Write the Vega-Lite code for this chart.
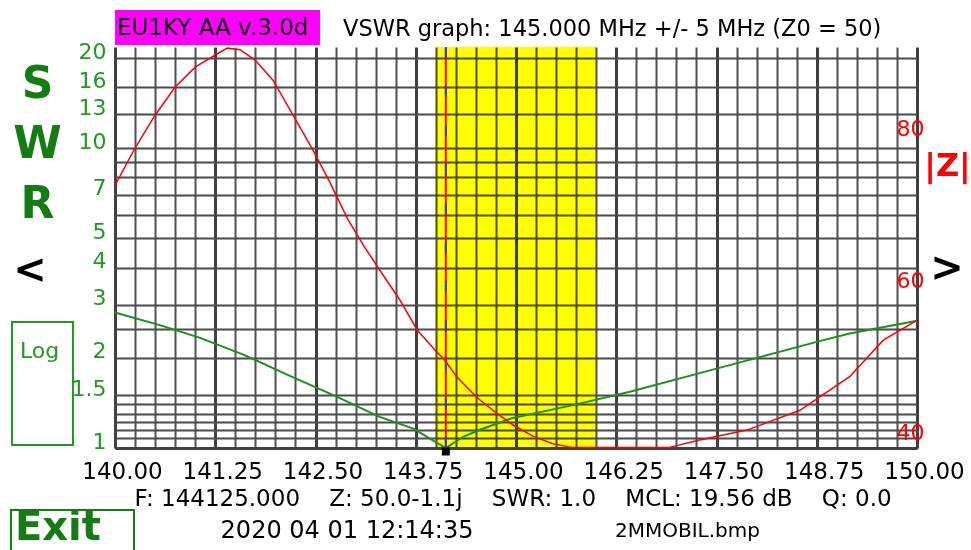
{
  "$schema": "https://vega.github.io/schema/vega-lite/v6.json",
  "width": 802,
  "height": 401,
  "autosize": {"type": "none"},
  "padding": {"left": 115, "top": 47, "right": 54, "bottom": 102},
  "background": "#ffffff",
  "config": {"view": {"stroke": null}, "font": "DejaVu Sans"},
  "datasets": {
    "band": [{"start": 144, "end": 146}],
    "marker": [{"f": 144.125}],
    "swr": [
      {"f": 140.0, "swr": 2.83},
      {"f": 140.6, "swr": 2.55},
      {"f": 141.06, "swr": 2.33},
      {"f": 141.6, "swr": 2.05},
      {"f": 142.18, "swr": 1.74},
      {"f": 142.75, "swr": 1.49},
      {"f": 143.3, "swr": 1.27},
      {"f": 143.72, "swr": 1.16},
      {"f": 143.99, "swr": 1.05},
      {"f": 144.125, "swr": 1.0},
      {"f": 144.34, "swr": 1.09},
      {"f": 144.55, "swr": 1.15},
      {"f": 144.96, "swr": 1.26},
      {"f": 145.71, "swr": 1.39},
      {"f": 146.42, "swr": 1.54},
      {"f": 147.5, "swr": 1.84},
      {"f": 148.75, "swr": 2.26},
      {"f": 149.16, "swr": 2.41},
      {"f": 150.0, "swr": 2.66}
    ],
    "z": [
      {"f": 140.0, "z": 73.4},
      {"f": 140.25, "z": 78.3},
      {"f": 140.5, "z": 82.6},
      {"f": 140.75, "z": 86.3},
      {"f": 141.0, "z": 88.9},
      {"f": 141.25, "z": 90.5},
      {"f": 141.4, "z": 91.4},
      {"f": 141.56, "z": 91.2},
      {"f": 141.75, "z": 89.8},
      {"f": 141.97, "z": 87.2},
      {"f": 142.22, "z": 82.6},
      {"f": 142.47, "z": 78.0},
      {"f": 142.68, "z": 73.8},
      {"f": 142.9, "z": 69.0},
      {"f": 143.1, "z": 65.5},
      {"f": 143.3, "z": 62.3},
      {"f": 143.55, "z": 58.4},
      {"f": 143.77, "z": 54.4},
      {"f": 143.99, "z": 51.8},
      {"f": 144.11, "z": 50.5},
      {"f": 144.26, "z": 48.3},
      {"f": 144.51, "z": 45.6},
      {"f": 144.76, "z": 43.5},
      {"f": 144.96, "z": 42.0},
      {"f": 145.21, "z": 40.5},
      {"f": 145.46, "z": 39.5},
      {"f": 145.71, "z": 39.0},
      {"f": 146.9, "z": 39.0},
      {"f": 147.29, "z": 40.0},
      {"f": 147.88, "z": 41.3},
      {"f": 148.54, "z": 43.9},
      {"f": 149.16, "z": 48.3},
      {"f": 149.58, "z": 53.1},
      {"f": 150.0, "z": 55.7}
    ]
  },
  "layer": [
    {
      "layer": [
        {
          "data": {"name": "band"},
          "mark": {"type": "rect", "color": "#ffff00", "blend": "multiply"},
          "encoding": {
            "x": {
              "field": "start",
              "type": "quantitative",
              "scale": {"domain": [140, 150], "nice": false, "zero": false},
              "axis": {
                "values": [140, 140.25, 140.5, 140.75, 141, 141.25, 141.5, 141.75, 142, 142.25, 142.5, 142.75, 143, 143.25, 143.5, 143.75, 144, 144.25, 144.5, 144.75, 145, 145.25, 145.5, 145.75, 146, 146.25, 146.5, 146.75, 147, 147.25, 147.5, 147.75, 148, 148.25, 148.5, 148.75, 149, 149.25, 149.5, 149.75, 150],
                "tickCount": 200,
                "labelExpr": "datum.value % 1.25 === 0 ? format(datum.value, '.2f') : ''",
                "grid": true,
                "gridColor": {"condition": {"test": "datum.value % 1.25 === 0", "value": "#404040"}, "value": "#505050"},
                "gridWidth": {"condition": {"test": "datum.value % 1.25 === 0", "value": 3}, "value": 2},
                "domain": true,
                "domainColor": "#404040",
                "domainWidth": 3,
                "ticks": false,
                "tickSize": 0,
                "labelPadding": 12,
                "labelOffset": 7,
                "labelFlush": false,
                "labelOverlap": false,
                "labelBound": false,
                "labelColor": "#000000",
                "labelFont": "DejaVu Sans",
                "labelFontSize": 23,
                "title": "F: 144125.000\u00a0\u00a0\u00a0\u00a0Z: 50.0-1.1j\u00a0\u00a0\u00a0\u00a0SWR: 1.0\u00a0\u00a0\u00a0\u00a0MCL: 19.56 dB\u00a0\u00a0\u00a0\u00a0Q: 0.0",
                "titleFont": "DejaVu Sans",
                "titleFontSize": 23,
                "titleFontWeight": "normal",
                "titleColor": "#000000",
                "titleAlign": "left",
                "titleBaseline": "middle",
                "titleX": 19,
                "titleY": 50
              }
            },
            "x2": {"field": "end"}
          }
        },
        {
          "data": {"name": "swr"},
          "mark": {"type": "line", "color": "#1c901c", "strokeWidth": 2},
          "encoding": {
            "x": {"field": "f", "type": "quantitative"},
            "y": {
              "field": "swr",
              "type": "quantitative",
              "scale": {"type": "log", "domain": [1, 21.77], "nice": false},
              "axis": {
                "orient": "left",
                "values": [1, 1.08, 1.15, 1.22, 1.3, 1.4, 1.5, 2, 2.5, 3, 4, 5, 6, 7, 8, 9, 10, 13, 16, 20],
                "tickCount": 200,
                "labelExpr": "indexof([1, 1.5, 2, 3, 4, 5, 7, 10, 13, 16, 20], datum.value) >= 0 ? '' + datum.value : ''",
                "grid": true,
                "gridColor": "#4a4a4a",
                "gridWidth": 2,
                "domain": false,
                "ticks": false,
                "tickSize": 0,
                "labelPadding": 9,
                "labelBaseline": "alphabetic",
                "labelColor": "#229922",
                "labelFont": "DejaVu Sans",
                "labelFontSize": 22,
                "labelOverlap": false,
                "labelFlush": false,
                "labelBound": false,
                "title": ["S", "W", "R"],
                "titleAngle": 0,
                "titleAlign": "center",
                "titleBaseline": "top",
                "titleX": -78,
                "titleY": 15,
                "titleFont": "DejaVu Sans",
                "titleFontSize": 44,
                "titleFontWeight": "bold",
                "titleColor": "#137d13",
                "titleLineHeight": 60
              }
            }
          }
        },
        {
          "data": {"name": "marker"},
          "mark": {"type": "rule", "color": "#ff0000", "strokeWidth": 2},
          "encoding": {"x": {"field": "f", "type": "quantitative"}}
        },
        {
          "data": {"name": "marker"},
          "mark": {"type": "rule", "color": "#2f3cff", "strokeWidth": 2, "strokeDash": [11, 28]},
          "encoding": {"x": {"field": "f", "type": "quantitative"}}
        },
        {
          "data": {"name": "marker"},
          "mark": {"type": "square", "color": "#000000", "filled": true, "opacity": 1, "size": 64},
          "encoding": {
            "x": {"field": "f", "type": "quantitative"},
            "y": {"datum": 0.9735, "type": "quantitative"}
          }
        },
        {
          "data": {"values": [{}]},
          "mark": {"type": "rect", "color": "#ff00ff"},
          "encoding": {
            "x": {"datum": 140, "type": "quantitative"},
            "x2": {"datum": 142.556},
            "y": {"datum": 22.09, "type": "quantitative"},
            "y2": {"datum": 28.91}
          }
        },
        {
          "data": {"values": [{"t": "EU1KY AA v.3.0d"}]},
          "mark": {"type": "text", "align": "left", "baseline": "middle", "font": "DejaVu Sans", "fontSize": 23, "color": "#000000"},
          "encoding": {
            "x": {"datum": 140.025, "type": "quantitative"},
            "y": {"datum": 25.18, "type": "quantitative"},
            "text": {"field": "t"}
          }
        },
        {
          "data": {"values": [{"t": "VSWR graph: 145.000 MHz +/- 5 MHz (Z0 = 50)"}]},
          "mark": {"type": "text", "align": "left", "baseline": "middle", "font": "DejaVu Sans", "fontSize": 22.5, "color": "#000000"},
          "encoding": {
            "x": {"datum": 142.843, "type": "quantitative"},
            "y": {"datum": 24.98, "type": "quantitative"},
            "text": {"field": "t"}
          }
        },
        {
          "data": {"values": [{"t": "<"}]},
          "mark": {"type": "text", "align": "center", "baseline": "alphabetic", "font": "DejaVu Sans", "fontSize": 40, "fontWeight": "bold", "color": "#000000"},
          "encoding": {
            "x": {"datum": 138.94, "type": "quantitative"},
            "y": {"datum": 3.551, "type": "quantitative"},
            "text": {"field": "t"}
          }
        },
        {
          "data": {"values": [{"t": ">"}]},
          "mark": {"type": "text", "align": "center", "baseline": "alphabetic", "font": "DejaVu Sans", "fontSize": 40, "fontWeight": "bold", "color": "#000000"},
          "encoding": {
            "x": {"datum": 150.374, "type": "quantitative"},
            "y": {"datum": 3.606, "type": "quantitative"},
            "text": {"field": "t"}
          }
        },
        {
          "data": {"values": [{}]},
          "mark": {"type": "rect", "filled": false, "color": "#229922", "strokeWidth": 2},
          "encoding": {
            "x": {"datum": 138.716, "type": "quantitative"},
            "x2": {"datum": 139.476},
            "y": {"datum": 1.023, "type": "quantitative"},
            "y2": {"datum": 2.633}
          }
        },
        {
          "data": {"values": [{"t": "Log"}]},
          "mark": {"type": "text", "align": "left", "baseline": "middle", "font": "DejaVu Sans", "fontSize": 22, "color": "#229922"},
          "encoding": {
            "x": {"datum": 138.815, "type": "quantitative"},
            "y": {"datum": 2.106, "type": "quantitative"},
            "text": {"field": "t"}
          }
        },
        {
          "data": {"values": [{}]},
          "mark": {"type": "rect", "filled": false, "color": "#137d13", "strokeWidth": 2},
          "encoding": {
            "x": {"datum": 138.703, "type": "quantitative"},
            "x2": {"datum": 140.237},
            "y": {"datum": 0.4363, "type": "quantitative"},
            "y2": {"datum": 0.621}
          }
        },
        {
          "data": {"values": [{"t": "Exit"}]},
          "mark": {"type": "text", "align": "left", "baseline": "alphabetic", "font": "DejaVu Sans", "fontSize": 40, "fontWeight": "bold", "color": "#137d13"},
          "encoding": {
            "x": {"datum": 138.753, "type": "quantitative"},
            "y": {"datum": 0.4933, "type": "quantitative"},
            "text": {"field": "t"}
          }
        },
        {
          "data": {"values": [{"t": "2020 04 01 12:14:35"}]},
          "mark": {"type": "text", "align": "center", "baseline": "middle", "font": "DejaVu Sans", "fontSize": 24, "color": "#000000"},
          "encoding": {
            "x": {"datum": 142.893, "type": "quantitative"},
            "y": {"datum": 0.5286, "type": "quantitative"},
            "text": {"field": "t"}
          }
        },
        {
          "data": {"values": [{"t": "2MMOBIL.bmp"}]},
          "mark": {"type": "text", "align": "center", "baseline": "middle", "font": "DejaVu Sans", "fontSize": 20, "color": "#000000"},
          "encoding": {
            "x": {"datum": 147.138, "type": "quantitative"},
            "y": {"datum": 0.5286, "type": "quantitative"},
            "text": {"field": "t"}
          }
        }
      ]
    },
    {
      "data": {"name": "z"},
      "mark": {"type": "line", "color": "#ff0000", "strokeWidth": 1.5},
      "encoding": {
        "x": {"field": "f", "type": "quantitative"},
        "y": {
          "field": "z",
          "type": "quantitative",
          "scale": {"domain": [38.95, 91.55], "nice": false, "zero": false},
          "axis": {
            "orient": "right",
            "values": [40, 60, 80],
            "grid": false,
            "domain": false,
            "ticks": false,
            "tickSize": 0,
            "labelPadding": -7,
            "labelAlign": "center",
            "labelBaseline": "alphabetic",
            "labelColor": "#ff0000",
            "labelFont": "DejaVu Sans",
            "labelFontSize": 22,
            "labelOverlap": false,
            "labelFlush": false,
            "labelBound": false,
            "title": "|Z|",
            "titleAngle": 0,
            "titleAlign": "center",
            "titleBaseline": "middle",
            "titleX": 30,
            "titleY": 118,
            "titleFont": "DejaVu Sans",
            "titleFontSize": 32,
            "titleFontWeight": "bold",
            "titleColor": "#ff0000"
          }
        }
      }
    }
  ],
  "resolve": {"scale": {"y": "independent"}}
}
